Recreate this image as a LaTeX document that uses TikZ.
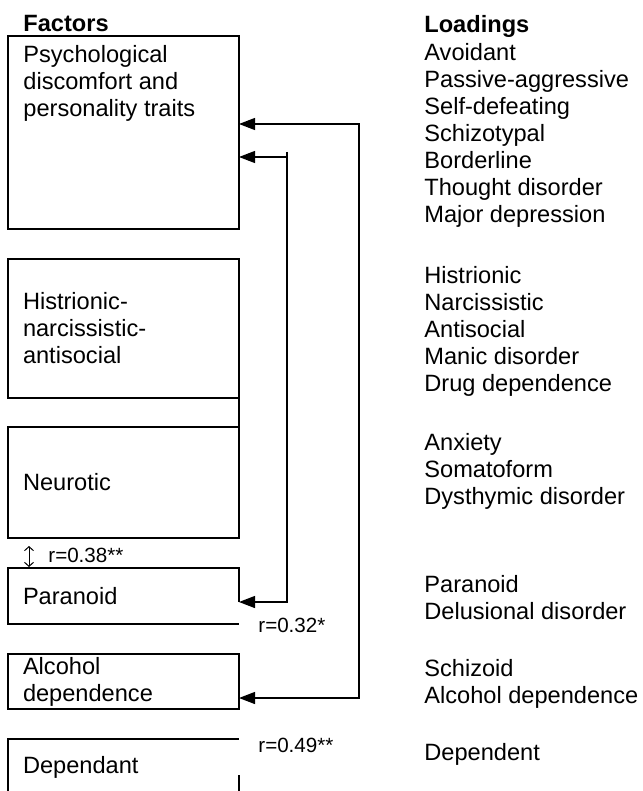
\documentclass[tikz,border=0pt]{standalone}
\usepackage{fontspec}
\setmainfont{Liberation Sans}
\usetikzlibrary{positioning,arrows.meta}

\begin{document}
\begin{tikzpicture}[
  x=0.5pt, y=-0.5pt,
  >={Triangle[length=8pt,width=6pt]},
  facbox/.style={rectangle, draw=black, line width=1pt, outer sep=0pt, minimum width=115.5pt, text width=100.5pt, inner xsep=7.5pt, inner ysep=0pt, align=left, anchor=north west, font=\fontsize{11.8}{13.5}\selectfont},
  boxline/.style={draw=black, line width=1pt},
  conn/.style={draw=black, line width=0.65pt},
  head/.style={anchor=north west, inner sep=0pt, font=\fontsize{11.8}{13.5}\selectfont\bfseries},
  load/.style={anchor=north west, inner sep=0pt, align=left, font=\fontsize{11.8}{13.5}\selectfont},
  rlbl/.style={anchor=base west, inner sep=0pt, font=\fontsize{10.3}{12}\selectfont}
]
\useasboundingbox (0,0) rectangle (642,791);
\clip (0,0) rectangle (642,791);

% headings
\node[head] (hfac) at (23,15) {Factors};
\node[head] (hload) at (424,15) {Loadings};

% factor boxes
\node[facbox, minimum height=96.5pt] (psy) at (8,36) {};
\node[load] (psytxt) at (23,45) {Psychological\\discomfort and\\personality traits};
\node[facbox, minimum height=69.5pt] (his) at (8,259) {Histrionic-\\narcissistic-\\antisocial};
\node[facbox, minimum height=55.5pt] (neu) at (8,427) {Neurotic};
\node[facbox, draw=none, minimum height=28pt] (par) at (8,568) {Paranoid};
\node[facbox, minimum height=27.5pt] (alc) at (8,654) {Alcohol\\dependence};
\node[facbox, draw=none, minimum height=28pt] (dep) at (8,739) {Dependant};

% loadings
\node[load] (l1) at (424,43) {Avoidant\\Passive-aggressive\\Self-defeating\\Schizotypal\\Borderline\\Thought disorder\\Major depression};
\node[load] (l2) at (424,266) {Histrionic\\Narcissistic\\Antisocial\\Manic disorder\\Drug dependence};
\node[load] (l3) at (424,433) {Anxiety\\Somatoform\\Dysthymic disorder};
\node[load] (l4) at (424,575) {Paranoid\\Delusional disorder};
\node[load] (l5) at (424,659) {Schizoid\\Alcohol dependence};
\node[load] (l6) at (424,743) {Dependent};

% correlations
\node[rlbl] (r38) at (48,562) {r=0.38**};
\node[rlbl] (r32) at (258,632) {r=0.32*};
\node[rlbl] (r49) at (258,752) {r=0.49**};

\coordinate (s1) at (287,152);
\coordinate (s1b) at (287,157);
\coordinate (s2) at (287,602);
\coordinate (b1) at (359,124);
\coordinate (b2) at (359,698);

% partial outlines
\draw[boxline] (his.south east) -- (neu.north east);
\draw[boxline] (par.east |- s2) -- (par.north east) -- (par.north west) -- (par.south west) -- (par.south east);
\draw[boxline] (dep.south west) -- (dep.north west) -- (dep.north east);
\draw[boxline] (dep.south east) -- ([yshift=-18pt]dep.north east);

% connectors
\draw[conn, <->] (psy.east |- b1) -- (b1) -- (b2) -- (alc.east |- b2);
\draw[conn, ->] (s1) -- (s2) -- (par.east |- s2);
\draw[conn, ->] (s1b) -- (psy.east |- s1b);
\draw[line width=0.5pt, {Straight Barb[length=2pt,width=4.5pt]}-{Straight Barb[length=2pt,width=4.5pt]}] ([xshift=10.5pt,yshift=-4pt]neu.south west) -- ([xshift=10.5pt,yshift=0.5pt]par.north west);
\end{tikzpicture}
\end{document}
